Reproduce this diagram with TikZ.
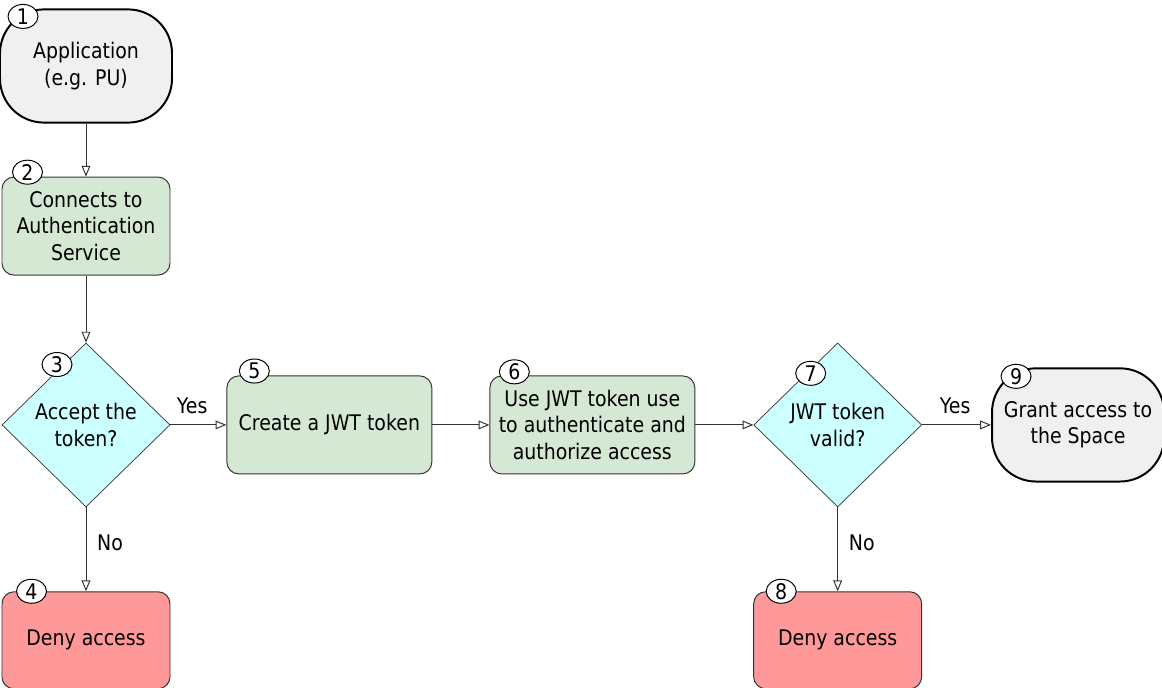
\documentclass[tikz,border=0pt]{standalone}
\usepackage{fontspec}
\setmainfont{DejaVu Sans}[FakeStretch=0.88]
\usepackage{xcolor}
\usepackage{tikz}
\usetikzlibrary{shapes.geometric, arrows.meta, positioning}

\definecolor{termgray}{HTML}{F0F0F0}
\definecolor{stepgreen}{HTML}{D5E8D4}
\definecolor{askcyan}{HTML}{CCFFFF}
\definecolor{denyred}{HTML}{FF9999}
\definecolor{edgegray}{HTML}{333333}

\begin{document}
\begin{tikzpicture}[every node/.style={font=\fontsize{15.3}{18.8}\selectfont, align=center},
    terminal/.style={draw=black, line width=1.4pt, fill=termgray, rounded corners=1.1cm, minimum width=4.3cm, minimum height=2.83cm, inner sep=0pt},
    process/.style={draw=edgegray, line width=0.7pt, fill=stepgreen, rounded corners=0.3cm, minimum width=4.2cm, minimum height=2.45cm, inner sep=0pt},
    decision/.style={diamond, draw=edgegray, line width=0.5pt, fill=askcyan, aspect=1, minimum width=4.2cm, minimum height=4.1cm, inner sep=0pt},
    denied/.style={process, fill=denyred, minimum height=2.425cm},
    badge/.style={ellipse, draw=black, line width=0.7pt, fill=white, minimum width=0.75cm, minimum height=0.6cm, inner sep=0pt},
    flow/.style={-{Triangle[open, length=0.27cm, width=0.22cm]}, draw=edgegray, line width=0.7pt}]
    \useasboundingbox (-2.15,1.65) rectangle (26.9,-15.525);

    % Steps
    \node[terminal] (app) {Application\\(e.g. PU)};
    \node[process, below=1.325cm of app] (connect) {Connects to\\Authentication\\Service};
    \node[decision, below=1.675cm of connect] (accept) {Accept the\\token?};
    \node[denied, below=2.1cm of accept] (deny1) {Deny access};
    \node[process, minimum width=5.125cm, right=1.4cm of accept] (create) {Create a JWT token};
    \node[process, minimum width=5.125cm, right=1.425cm of create] (use) {Use JWT token use\\to authenticate and\\authorize access};
    \node[decision, right=1.45cm of use] (valid) {JWT token\\valid?};
    \node[denied, below=2.1cm of valid] (deny2) {Deny access};
    \node[terminal, right=1.725cm of valid] (grant) {Grant access to\\the Space};

    % Flow
    \draw[flow] (app) -- (connect);
    \draw[flow] (connect) -- (accept);
    \draw[flow] (accept) -- node[above=0.15cm, pos=0.39] (yes1) {Yes} (create);
    \draw[flow] (accept) -- node[right=0.15cm, pos=0.42] (no1) {No} (deny1);
    \draw[flow] (create) -- (use);
    \draw[flow] (use) -- (valid);
    \draw[flow] (valid) -- node[above=0.15cm, pos=0.48] (yes2) {Yes} (grant);
    \draw[flow] (valid) -- node[right=0.15cm, pos=0.42] (no2) {No} (deny2);

    % Step numbers
    \node[badge] (b1) at ([xshift=0.6cm, yshift=-0.2cm]app.north west) {1};
    \node[badge] (b2) at ([xshift=0.65cm, yshift=0.11cm]connect.north west) {2};
    \node[badge] (b3) at ([xshift=-0.725cm, yshift=1.51cm]accept.center) {3};
    \node[badge] (b4) at ([xshift=0.75cm]deny1.north west) {4};
    \node[badge] (b5) at ([xshift=0.7cm, yshift=0.11cm]create.north west) {5};
    \node[badge] (b6) at ([xshift=0.625cm, yshift=0.09cm]use.north west) {6};
    \node[badge] (b7) at ([xshift=-0.675cm, yshift=1.29cm]valid.center) {7};
    \node[badge] (b8) at ([xshift=0.7cm]deny2.north west) {8};
    \node[badge] (b9) at ([xshift=0.625cm, yshift=-0.225cm]grant.north west) {9};
\end{tikzpicture}
\end{document}
